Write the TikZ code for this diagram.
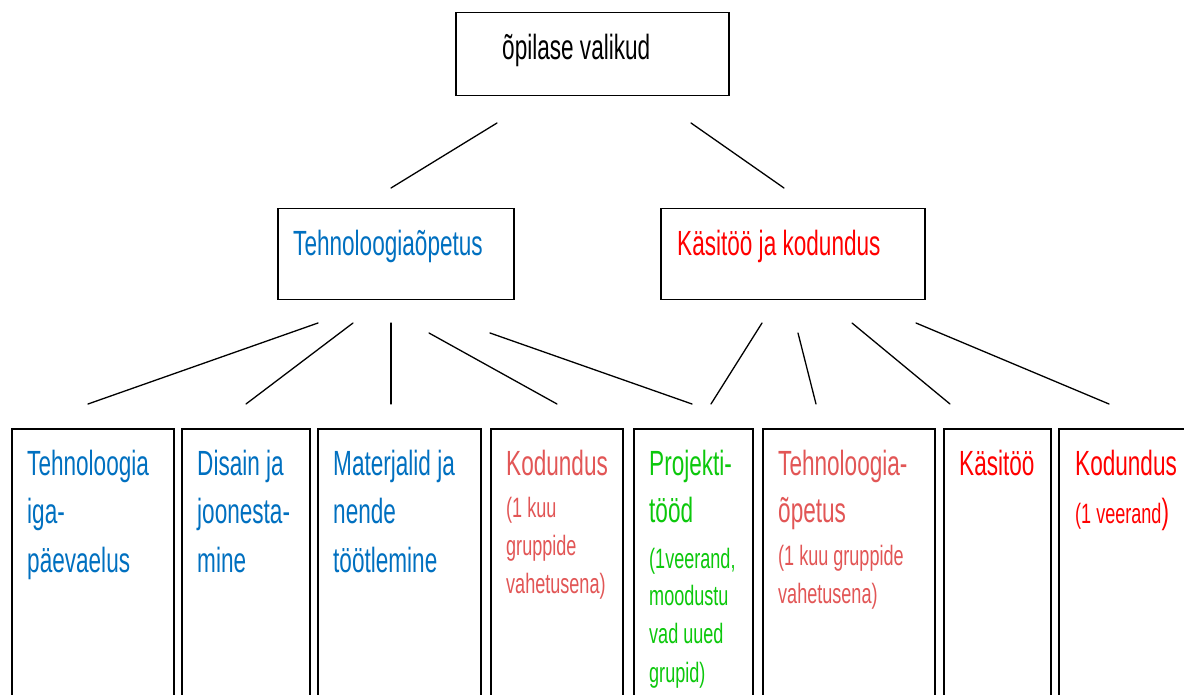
\documentclass[tikz,border=0pt]{standalone}
\usepackage{fontspec}
\setmainfont[FakeStretch=0.645]{Liberation Sans}
\definecolor{tblue}{RGB}{0,112,192}
\definecolor{salmon}{RGB}{226,86,86}
\definecolor{tgreen}{RGB}{12,200,12}
\definecolor{tred}{RGB}{255,0,0}
\begin{document}
\begin{tikzpicture}[x=1pt,y=-1pt,
  box/.style={draw=black,line width=1.5pt,anchor=north west,inner sep=0pt},
  conn/.style={line width=1.3pt,line cap=round},
  big/.style={inner sep=0pt,anchor=base west,font=\fontsize{35}{42}\selectfont},
  small/.style={inner sep=0pt,anchor=base west,font=\fontsize{28}{34}\selectfont}]
\clip (0,0) rectangle (1184,695);
\fill[white] (0,0) rectangle (1184,695);
% boxes
\node[box,minimum width=273pt,minimum height=83pt] (top) at (455,12) {};
\node[box,minimum width=236pt,minimum height=91pt] (tech) at (277,208) {};
\node[box,minimum width=264pt,minimum height=91pt] (kasi) at (660,208) {};
\node[box,minimum width=162pt,minimum height=300pt] (b1) at (11,428) {};
\node[box,minimum width=128pt,minimum height=300pt] (b2) at (181,428) {};
\node[box,minimum width=163pt,minimum height=300pt] (b3) at (317,428) {};
\node[box,minimum width=132pt,minimum height=300pt] (b4) at (490,428) {};
\node[box,minimum width=119pt,minimum height=300pt] (b5) at (633,428) {};
\node[box,minimum width=172pt,minimum height=300pt] (b6) at (762,428) {};
\node[box,minimum width=107pt,minimum height=300pt] (b7) at (943,428) {};
\node[box,minimum width=160pt,minimum height=300pt] (b8) at (1058,428) {};
% texts
\node[big,black] (ttop) at (502,60) {õpilase valikud};
\node[big,tblue] (ttech) at (293,256) {Tehnoloogiaõpetus};
\node[big,tred] (tkasi) at (677,256) {Käsitöö ja kodundus};
\node[big,tblue] (t1a) at (27,475) {Tehnoloogia};
\node[big,tblue] (t1b) at (27,523) {iga-};
\node[big,tblue] (t1c) at (27,572) {päevaelus};
\node[big,tblue] (t2a) at (197,475) {Disain ja};
\node[big,tblue] (t2b) at (197,523) {joonesta-};
\node[big,tblue] (t2c) at (197,572) {mine};
\node[big,tblue] (t3a) at (333,475) {Materjalid ja};
\node[big,tblue] (t3b) at (333,523) {nende};
\node[big,tblue] (t3c) at (333,572) {töötlemine};
\node[big,salmon] (t4a) at (506,475) {Kodundus};
\node[small,salmon] (t4b) at (506,517) {(1 kuu};
\node[small,salmon] (t4c) at (506,555) {gruppide};
\node[small,salmon] (t4d) at (506,593) {vahetusena)};
\node[big,tgreen] (t5a) at (649,475) {Projekti-};
\node[big,tgreen] (t5b) at (649,522) {tööd};
\node[small,tgreen] (t5c) at (649,568) {(1veerand,};
\node[small,tgreen] (t5d) at (649,605) {moodustu};
\node[small,tgreen] (t5e) at (649,643) {vad uued};
\node[small,tgreen] (t5f) at (649,682) {grupid)};
\node[big,salmon] (t6a) at (778,475) {Tehnoloogia-};
\node[big,salmon] (t6b) at (778,522) {õpetus};
\node[small,salmon] (t6c) at (778,565) {(1 kuu gruppide};
\node[small,salmon] (t6d) at (778,603) {vahetusena)};
\node[big,tred] (t7a) at (959,475) {Käsitöö};
\node[big,tred] (t8a) at (1075,475) {Kodundus};
\node[small,tred] (t8b) at (1075,523) {(1 veerand\fontsize{35}{42}\selectfont)};
% connector end points
\coordinate (a1) at (497,123); \coordinate (a2) at (391,188);
\coordinate (c1) at (691,123); \coordinate (c2) at (784,188);
\coordinate (s1) at (318,323); \coordinate (e1) at (88,404);
\coordinate (s2) at (353,323); \coordinate (e2) at (246,404);
\coordinate (s3) at (391,323); \coordinate (e3) at (391,404);
\coordinate (s4) at (429,333); \coordinate (e4) at (557,404);
\coordinate (s5) at (490,333); \coordinate (e5) at (692,404);
\coordinate (r1) at (762,323); \coordinate (f1) at (711,404);
\coordinate (r2) at (798,333); \coordinate (f2) at (816,404);
\coordinate (r3) at (852,323); \coordinate (f3) at (950,404);
\coordinate (r4) at (916,323); \coordinate (f4) at (1109,404);
\draw[conn] (a1) -- (a2);
\draw[conn] (c1) -- (c2);
\draw[conn] (s1) -- (e1);
\draw[conn] (s2) -- (e2);
\draw[conn] (s3) -- (e3);
\draw[conn] (s4) -- (e4);
\draw[conn] (s5) -- (e5);
\draw[conn] (r1) -- (f1);
\draw[conn] (r2) -- (f2);
\draw[conn] (r3) -- (f3);
\draw[conn] (r4) -- (f4);
\end{tikzpicture}
\end{document}
